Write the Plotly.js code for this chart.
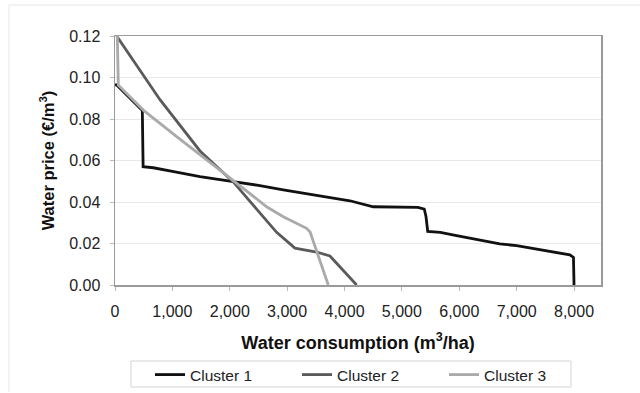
<!DOCTYPE html>
<html><head><meta charset="utf-8">
<script src="https://cdn.plot.ly/plotly-3.0.1.min.js"></script>
<style>body{margin:0;background:#fff}#c{width:640px;height:393px}</style>
</head><body><div id="c"></div>
<script>
var c1x = [0, 30, 470, 476, 490, 667, 1000, 1481, 2061, 2500, 2933, 3230, 3513, 4094, 4500, 5280, 5390, 5420, 5450, 5670, 5953, 6520, 6707, 7000, 7300, 7520, 7927, 7990, 8000];
var c1y = [0.0964, 0.0964, 0.0843, 0.0843, 0.0570, 0.0565, 0.0548, 0.0522, 0.0498, 0.0480, 0.0458, 0.0445, 0.0429, 0.0406, 0.0377, 0.0374, 0.0366, 0.0330, 0.0258, 0.0254, 0.0238, 0.0209, 0.0198, 0.0190, 0.0175, 0.0165, 0.0145, 0.0133, 0.0];
var c2x = [29, 784, 1481, 2061, 2468, 2817, 3136, 3513, 3746, 4000, 4211];
var c2y = [0.1200, 0.0893, 0.0646, 0.0497, 0.0366, 0.0254, 0.0178, 0.0159, 0.0140, 0.0065, 0.0];
var c3x = [40, 58, 493, 1075, 1829, 2352, 2643, 2933, 3339, 3400, 3717];
var c3y = [0.1200, 0.0963, 0.0843, 0.0715, 0.0554, 0.0442, 0.0377, 0.0329, 0.0273, 0.0255, 0.0];
var names = ["Cluster 1", "Cluster 2", "Cluster 3"];
var xTicks = [0, 1000, 2000, 3000, 4000, 5000, 6000, 7000, 8000];
var xTickText = ["0", "1,000", "2,000", "3,000", "4,000", "5,000", "6,000", "7,000", "8,000"];
var yTicks = [0, 0.02, 0.04, 0.06, 0.08, 0.10, 0.12];
var yTickText = ["0.00", "0.02", "0.04", "0.06", "0.08", "0.10", "0.12"];

var FONT = "Liberation Sans, Arial, sans-serif";
var traces = [
  {x: c1x, y: c1y, name: names[0], mode: "lines", line: {color: "#111111", width: 2.8}},
  {x: c2x, y: c2y, name: names[1], mode: "lines", line: {color: "#5a5a5a", width: 2.8}},
  {x: c3x, y: c3y, name: names[2], mode: "lines", line: {color: "#aaaaaa", width: 2.8}}
];
// paper coords: px -> (px-115)/486, py -> (286-py)/249
function px(v){return (v-115)/486;}
function py(v){return (286-v)/249;}
var layout = {
  width: 640, height: 393,
  margin: {l: 115, r: 39, t: 36, b: 108},
  paper_bgcolor: "#fff", plot_bgcolor: "#fff",
  font: {family: FONT, color: "#222", size: 16},
  showlegend: true,
  xaxis: {
    range: [0, 8470], tickvals: xTicks, ticktext: xTickText,
    showgrid: false, zeroline: false,
    showline: true, linecolor: "#9a9a9a", linewidth: 1.5, mirror: true,
    ticks: "outside", ticklen: 4, tickcolor: "#bbb", ticklabelstandoff: 7,
    tickfont: {size: 16, color: "#222", family: FONT},
    title: {text: "Water consumption (m<sup>3</sup>/ha)", font: {size: 18, color: "#111", family: FONT, weight: "bold"}, standoff: 17}
  },
  yaxis: {
    range: [0, 0.12], tickvals: yTicks, ticktext: yTickText,
    showgrid: true, gridcolor: "#e8e8e8", gridwidth: 1, zeroline: false,
    showline: true, linecolor: "#9a9a9a", linewidth: 1.5, mirror: true,
    ticks: "outside", ticklen: 4, tickcolor: "#bbb", ticklabelstandoff: 6,
    tickfont: {size: 16, color: "#222", family: FONT},
    title: {text: "Water price (€/m<sup>3</sup>)", font: {size: 16.5, color: "#111", family: FONT, weight: "bold"}, standoff: 10}
  },
  legend: {
    orientation: "h", xref: "container", yref: "container",
    x: 150/640, xanchor: "left", y: 1 - 358/393, yanchor: "top",
    borderwidth: 0, bgcolor: "rgba(0,0,0,0)",
    entrywidth: 102, entrywidthmode: "pixels", itemwidth: 30,
    font: {size: 15.5, color: "#222", family: FONT}
  },
  shapes: [
    {type: "rect", xref: "paper", yref: "paper", x0: px(131), x1: px(571), y0: py(388), y1: py(362),
     line: {color: "#d4d4d4", width: 1}},
    {type: "line", xref: "paper", yref: "paper", x0: px(9), x1: px(640), y0: py(6), y1: py(6),
     line: {color: "#e6e6e6", width: 1}},
    {type: "line", xref: "paper", yref: "paper", x0: px(9), x1: px(9), y0: py(6), y1: py(393),
     line: {color: "#e6e6e6", width: 1}}
  ]
};
Plotly.newPlot("c", traces, layout, {displayModeBar: false, staticPlot: true});
</script></body></html>
